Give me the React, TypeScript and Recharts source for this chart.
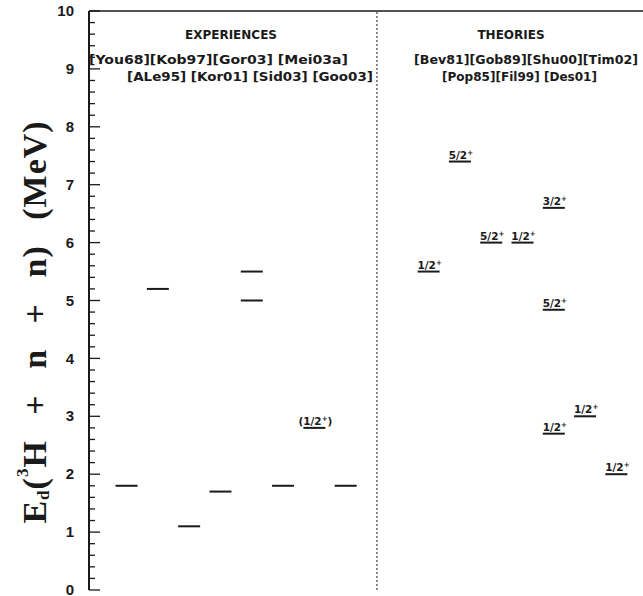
import React from 'react';
import { ComposedChart, Scatter, XAxis, YAxis, ReferenceLine, Customized } from 'recharts';

// experimental levels (one entry per drawn level)
const expRefs = ['You68', 'Kob97', 'ALe95', 'Kor01', 'Gor03', 'Gor03', 'Sid03', 'Mei03a', 'Goo03'];
const expPos = [1.2, 2.2, 3.2, 4.2, 5.2, 5.2, 6.2, 7.2, 8.2];
const expEnergy = [1.8, 5.2, 1.1, 1.7, 5.5, 5.0, 1.8, 2.8, 1.8];
const expSpin = ['', '', '', '', '', '', '', '(1/2)', ''];

// theoretical levels
const thRefs = ['Bev81', 'Pop85', 'Gob89', 'Fil99', 'Shu00', 'Shu00', 'Shu00', 'Des01', 'Tim02'];
const thPos = [10.85, 11.85, 12.85, 13.85, 14.85, 14.85, 14.85, 15.85, 16.85];
const thEnergy = [5.5, 7.4, 6.0, 6.0, 6.6, 4.84, 2.7, 3.0, 2.0];
const thSpin = ['1/2', '5/2', '5/2', '1/2', '3/2', '5/2', '1/2', '1/2', '1/2'];

const majorTicks = [0, 1, 2, 3, 4, 5, 6, 7, 8, 9, 10];
const minorTicks = [
  0.2, 0.4, 0.6, 0.8, 1.2, 1.4, 1.6, 1.8, 2.2, 2.4, 2.6, 2.8, 3.2, 3.4, 3.6, 3.8,
  4.2, 4.4, 4.6, 4.8, 5.2, 5.4, 5.6, 5.8, 6.2, 6.4, 6.6, 6.8, 7.2, 7.4, 7.6, 7.8,
  8.2, 8.4, 8.6, 8.8, 9.2, 9.4, 9.6, 9.8,
];
const dividerX = 9.2;

const expData = expRefs.map((ref, i) => ({ ref, x: expPos[i], e: expEnergy[i], spin: expSpin[i] }));
const thData = thRefs.map((ref, i) => ({ ref, x: thPos[i], e: thEnergy[i], spin: thSpin[i] }));

const INK = '#1a1a1a';
const LABEL_FONT = '"DejaVu Sans", sans-serif';

const YTick = (props: any) => {
  const { x, y, payload } = props;
  const major = Number.isInteger(payload.value);
  return (
    <g>
      <line x1={x} x2={x + (major ? 11 : 6)} y1={y} y2={y} stroke={INK} strokeWidth={1.3} />
      {major && (
        <text x={x - 15} y={y} dy="0.34em" textAnchor="end" fontFamily='"Liberation Sans", Arial, sans-serif'
          fontWeight="bold" fontSize={15} fill={INK}>
          {payload.value}
        </text>
      )}
    </g>
  );
};

const Level = (props: any) => {
  const { cx, cy, payload } = props;
  const spin: string = payload.spin;
  const paren = spin.startsWith('(');
  return (
    <g>
      <line x1={cx - 11} x2={cx + 11} y1={cy} y2={cy} stroke={INK} strokeWidth={2} />
      {spin && (
        <text x={cx + 1} y={cy - 3} textAnchor="middle" fontFamily={LABEL_FONT} fontWeight="bold" fontSize={10.5} fill={INK}>
          {paren ? spin.slice(0, -1) : spin}
          <tspan dy={-4} fontSize={7}>+</tspan>
          {paren && <tspan dy={4}>)</tspan>}
        </text>
      )}
    </g>
  );
};

const Annotations = () => (
  <g fontFamily={LABEL_FONT} fontWeight="bold" fill={INK}>
    <text x={231} y={39} textAnchor="middle" fontSize={12}>EXPERIENCES</text>
    <text x={511} y={39} textAnchor="middle" fontSize={12}>THEORIES</text>
    <text x={89} y={64} fontSize={12.5} textLength={259} lengthAdjust="spacingAndGlyphs">[You68][Kob97][Gor03] [Mei03a]</text>
    <text x={127} y={81} fontSize={12.5} textLength={246} lengthAdjust="spacingAndGlyphs">[ALe95] [Kor01] [Sid03]  [Goo03]</text>
    <text x={414} y={64} fontSize={12.5} textLength={224} lengthAdjust="spacingAndGlyphs">[Bev81][Gob89][Shu00][Tim02]</text>
    <text x={442} y={81} fontSize={12.5} textLength={155} lengthAdjust="spacingAndGlyphs">[Pop85][Fil99]  [Des01]</text>
    <text transform="translate(46,322) rotate(-90)" textAnchor="middle" fontFamily='"Liberation Serif", "Times New Roman", serif'
      fontWeight="bold" fontSize={34} letterSpacing={1} wordSpacing={16}>
      E<tspan dy={3} fontSize={17}>d</tspan>
      <tspan dy={-3}>(</tspan>
      <tspan dy={-18} fontSize={17}>3</tspan>
      <tspan dy={18}>H + n + n) (MeV)</tspan>
    </text>
  </g>
);

export default function App() {
  return (
    <div style={{ position: 'absolute', left: 0, top: 0, width: 643, height: 596, background: '#fff' }}>
      <ComposedChart width={643} height={596} margin={{ top: 11, right: 0, bottom: 6, left: 0 }}>
        <XAxis type="number" dataKey="x" domain={[0, 17.7]} height={0} tick={false} tickLine={false}
          axisLine={{ stroke: INK, strokeWidth: 2 }} allowDataOverflow />
        <YAxis type="number" dataKey="e" domain={[0, 10]} width={89} ticks={[...majorTicks, ...minorTicks]}
          interval={0} tickLine={false} tickSize={0} tickMargin={0} tick={<YTick />}
          axisLine={{ stroke: INK, strokeWidth: 2 }} allowDataOverflow />
        <ReferenceLine y={10} stroke={INK} strokeWidth={1.5} />
        <ReferenceLine x={dividerX} stroke={INK} strokeWidth={1} strokeDasharray="2 2" />
        <Scatter data={expData} shape={<Level />} isAnimationActive={false} />
        <Scatter data={thData} shape={<Level />} isAnimationActive={false} />
        <Customized component={Annotations} />
      </ComposedChart>
    </div>
  );
}
